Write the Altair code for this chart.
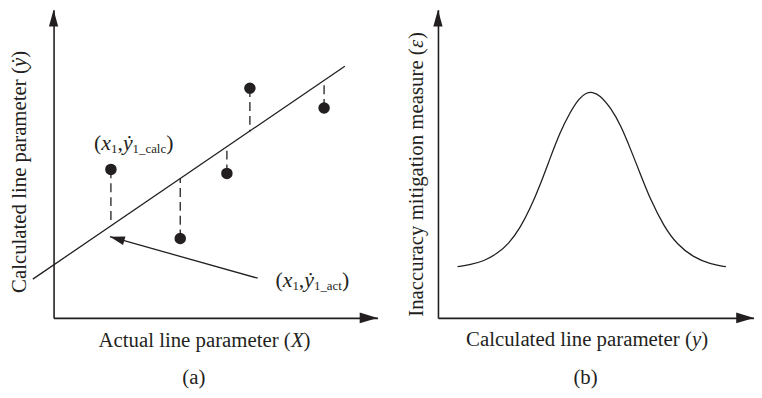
import altair as alt
import pandas as pd

# ---------------- data: panel (a) ----------------
actual_x = [17.7, 39.1, 53.5, 60.6, 83.5]        # actual line parameter X
calc_y = [47.9, 25.6, 46.6, 74.1, 67.7]          # calculated values (dots)
fit_y = [30.4, 45.0, 55.3, 60.1, 76.4]           # values on the fitted line
fit_line_x = [-6.4, 89.9]
fit_line_y = [12.5, 81.2]
arrow_x = [63.0, 17.4]                           # annotation arrow (tail -> head)
arrow_y = [12.8, 26.2]

# ---------------- data: panel (b) ----------------
curve_x = [6.2, 10.3, 14.5, 18.7, 22.4, 26.0, 29.2, 32.3, 35.4, 38.6, 41.7, 44.8, 46.9,
           48.8, 51.1, 54.8, 57.9, 61.0, 64.2, 67.3, 71.5, 75.7, 80.9, 86.1, 91.1]
curve_y = [16.5, 17.2, 18.3, 20.7, 23.9, 29.0, 35.3, 42.8, 51.3, 59.8, 66.2, 71.0, 72.6,
           72.9, 72.0, 67.6, 62.0, 54.3, 46.0, 38.0, 29.5, 23.6, 19.5, 17.4, 16.5]

FONT = "Liberation Serif"
INK = "#231f20"
MAIN = 21
SUB = 12

W_REG = {' ': 250, '(': 333, ')': 333, ',': 250, 'A': 722, 'C': 667, 'I': 333, 'X': 722,
         'a': 444, 'b': 500, 'c': 444, 'd': 500, 'e': 444, 'g': 500, 'i': 278, 'l': 278,
         'm': 778, 'n': 500, 'o': 500, 'p': 500, 'r': 333, 's': 389, 't': 278, 'u': 500,
         'y': 500, '_': 500, '1': 500}
W_IT = {'x': 444, 'y': 444, 'X': 611, 'ẏ': 444, 'ε': 439}


def twidth(s, italic, size):
    tbl = W_IT if italic else W_REG
    return sum(tbl.get(c, 500) for c in s) * size / 1000.0


AX = alt.Axis(title=None, labels=False, ticks=False, grid=False,
              domainColor=INK, domainWidth=1.6)

Y_ARROW = "M0,0L0.55,2L-0.55,2Z"
X_ARROW = "M0,0L-2,-0.6L-2,0.6Z"


def enc(chart, sx, sy, xf="x", yf="y", **extra):
    return chart.encode(x=alt.X(f"{xf}:Q", scale=sx, axis=AX),
                        y=alt.Y(f"{yf}:Q", scale=sy, axis=AX), **extra)


def rich_text(pieces, x, y, sx, sy, center=False, angle=0, main=MAIN, sub_size=SUB):
    sizes = [sub_size if sub else main for _, _, sub in pieces]
    ws = [twidth(t, it, s) for (t, it, _), s in zip(pieces, sizes)]
    off = -sum(ws) / 2 if center else 0.0
    anchor = pd.DataFrame({"x": [x], "y": [y]})
    layers = []
    for (t, it, sub), s, w in zip(pieces, sizes, ws):
        mk = alt.Chart(anchor).mark_text(
            text=t, font=FONT, fontSize=s, fontStyle="italic" if it else "normal",
            color=INK, align="left", baseline="alphabetic",
            dx=off, dy=3 if sub else 0, angle=angle)
        layers.append(enc(mk, sx, sy))
        off += w
    return layers


def axis_arrows(sx, sy, xmax, ymax):
    ya = alt.Chart(pd.DataFrame({"x": [0], "y": [ymax]})).mark_point(
        shape=Y_ARROW, size=289, filled=True, color=INK, opacity=1, strokeWidth=0)
    xa = alt.Chart(pd.DataFrame({"x": [xmax], "y": [0]})).mark_point(
        shape=X_ARROW, size=324, filled=True, color=INK, opacity=1, strokeWidth=0)
    return [enc(ya, sx, sy), enc(xa, sx, sy)]


# ---------------- panel (a) ----------------
YMAX = 99.4
sxa = alt.Scale(domain=[0, 100], nice=False, zero=False)
sya = alt.Scale(domain=[0, YMAX], nice=False, zero=False)

df_fit = pd.DataFrame({"x": fit_line_x, "y": fit_line_y})
df_pts = pd.DataFrame({"x": actual_x, "y": calc_y, "yf": fit_y})
df_arr = pd.DataFrame({"x": [arrow_x[0]], "y": [arrow_y[0]],
                       "x2": [arrow_x[1]], "y2": [arrow_y[1]]})
df_head = pd.DataFrame({"x": [arrow_x[1]], "y": [arrow_y[1]]})

a_layers = [
    enc(alt.Chart(df_fit).mark_line(color=INK, strokeWidth=1.3, clip=False), sxa, sya),
    enc(alt.Chart(df_pts).mark_rule(color=INK, strokeWidth=1.3, strokeDash=[9, 5]),
        sxa, sya, y2="yf:Q"),
    enc(alt.Chart(df_pts).mark_circle(color=INK, size=135, opacity=1), sxa, sya),
    enc(alt.Chart(df_arr).mark_rule(color=INK, strokeWidth=1.3), sxa, sya,
        x2="x2:Q", y2="y2:Q"),
    enc(alt.Chart(df_head).mark_point(shape=X_ARROW, size=225, angle=195.7, filled=True,
                                      color=INK, opacity=1, strokeWidth=0), sxa, sya),
]
a_layers += axis_arrows(sxa, sya, 100, YMAX)
a_layers += rich_text([("(", False, False), ("x", True, False), ("1", False, True),
                       (",", False, False), ("ẏ", True, False), ("1_calc", False, True),
                       (")", False, False)], 12.5, 54.3, sxa, sya, main=22, sub_size=13)
a_layers += rich_text([("(", False, False), ("x", True, False), ("1", False, True),
                       (",", False, False), ("ẏ", True, False), ("1_act", False, True),
                       (")", False, False)], 68.5, 9.9, sxa, sya, main=22, sub_size=13)
a_layers += rich_text([("Actual line parameter (", False, False), ("X", True, False),
                       (")", False, False)], 46.6, -9.27, sxa, sya, center=True)
a_layers += rich_text([("Calculated line parameter (", False, False), ("ẏ", True, False),
                       (")", False, False)], -8.56, 47.1, sxa, sya, center=True, angle=270)
a_layers += rich_text([("(a)", False, False)], 43.3, -21.4, sxa, sya, center=True)

panel_a = alt.layer(*a_layers).properties(width=327, height=311)

# ---------------- panel (b) ----------------
sxb = alt.Scale(domain=[0, 100], nice=False, zero=False)
syb = alt.Scale(domain=[0, YMAX], nice=False, zero=False)
df_curve = pd.DataFrame({"x": curve_x, "y": curve_y})

b_layers = [
    enc(alt.Chart(df_curve).mark_line(color=INK, strokeWidth=1.3, interpolate="basis"),
        sxb, syb),
]
b_layers += axis_arrows(sxb, syb, 100, YMAX)
b_layers += rich_text([("Calculated line parameter (", False, False), ("y", True, False),
                       (")", False, False)], 47.2, -9.2, sxb, syb, center=True)
b_layers += rich_text([("Inaccuracy mitigation measure (", False, False), ("ε", True, False),
                       (")", False, False)], -4.7, 46.3, sxb, syb, center=True, angle=270)
b_layers += rich_text([("(b)", False, False)], 46.7, -21.4, sxb, syb, center=True)

panel_b = alt.layer(*b_layers).properties(width=319, height=311)

chart = alt.hconcat(panel_a, panel_b, spacing=29).properties(
    padding={"left": 1, "top": 0, "right": 0, "bottom": 0}
).configure_view(stroke=None)

chart.save("out.html", embed_options={"renderer": "svg", "actions": False})
